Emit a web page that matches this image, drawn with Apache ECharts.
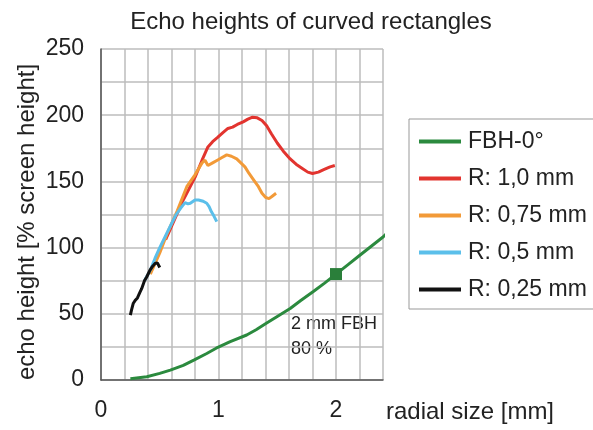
<!DOCTYPE html>
<html>
<head>
<meta charset="utf-8">
<script src="https://cdn.jsdelivr.net/npm/echarts@6/dist/echarts.min.js"></script>
<style>
html, body { margin: 0; padding: 0; background: #fff; }
#main { width: 593px; height: 430px; }
</style>
</head>
<body>
<div id="main"></div>
<script>
// 曲线数据 [径向尺寸 mm, 回波高度 %]
var fbh0 = [[0.25,1],[0.39,2.5],[0.5,5],[0.59,7.5],[0.7,11],[0.79,15],[0.9,20],[0.98,24],[1.1,29],[1.24,34],[1.32,38],[1.41,43],[1.5,48],[1.61,54],[1.7,60],[1.81,67],[1.9,73],[2.0,80],[2.1,87],[2.2,94],[2.3,101],[2.4,108],[2.47,114]];
var r100 = [[0.55,106],[0.6,116],[0.7,136],[0.8,153],[0.86,166],[0.91,176],[0.95,180],[0.99,183],[1.04,187],[1.08,190],[1.12,191],[1.16,193],[1.21,195],[1.25,197],[1.29,198.5],[1.33,198],[1.37,196],[1.41,192],[1.45,186],[1.5,179],[1.55,173],[1.61,167],[1.66,163],[1.71,160],[1.76,157],[1.8,156],[1.85,157],[1.9,159],[1.95,161],[1.99,162]];
var r075 = [[0.42,80],[0.5,96],[0.56,110],[0.65,128],[0.73,146],[0.8,155],[0.86,164],[0.885,166],[0.91,162],[0.95,164],[0.99,166],[1.03,168],[1.07,170],[1.11,169],[1.155,167],[1.19,164],[1.225,161],[1.26,156],[1.3,151],[1.34,146],[1.37,141],[1.4,138],[1.43,137],[1.46,139],[1.49,141]];
var r050 = [[0.37,75],[0.42,83],[0.46,92],[0.5,100],[0.55,109],[0.6,118],[0.64,125],[0.68,130],[0.715,134],[0.74,133],[0.76,133.5],[0.8,136],[0.83,136],[0.87,135],[0.9,133.5],[0.92,131],[0.94,127],[0.96,124],[0.985,119.6]];
var r025 = [[0.25,49],[0.26,53],[0.275,58],[0.29,60],[0.31,62],[0.33,66],[0.346,69],[0.37,75],[0.39,78],[0.417,83],[0.44,86],[0.46,88],[0.48,88.5],[0.49,87.6],[0.5,85]];

var seriesNames = ['FBH-0°', 'R: 1,0 mm', 'R: 0,75 mm', 'R: 0,5 mm', 'R: 0,25 mm'];
var seriesColors = ['#2b8a3e', '#e2342f', '#f29a38', '#5bbfea', '#111111'];
var seriesData = [fbh0, r100, r075, r050, r025];
var xLabels = [0, 1, 2];
var yLabels = [0, 50, 100, 150, 200, 250];
var refPoint = [2, 80];

var FONT = 'Liberation Sans, Arial, sans-serif';
var GRIDCOLOR = '#bdbdbd';
var myChart = echarts.init(document.getElementById('main'));

var series = [];
for (var i = 0; i < seriesData.length; i++) {
    series.push({
        name: seriesNames[i],
        type: 'line',
        data: seriesData[i],
        symbol: 'none',
        clip: false,
        lineStyle: { color: seriesColors[i], width: 3 },
        itemStyle: { color: seriesColors[i] }
    });
}
// 2 mm FBH 参考点
series[0].markPoint = {
    symbol: 'rect',
    symbolSize: 12,
    itemStyle: { color: '#2a7f3a' },
    label: { show: false },
    data: [{ coord: refPoint }]
};

var option = {
    animation: false,
    textStyle: { fontFamily: FONT },
    title: {
        text: 'Echo heights of curved rectangles',
        left: 306,
        textAlign: 'center',
        top: 5,
        textStyle: { fontFamily: FONT, fontSize: 24, fontWeight: 'normal', color: '#222' }
    },
    legend: {
        orient: 'vertical',
        left: 409,
        top: 119,
        padding: [11, 10, 8, 10],
        borderColor: '#999',
        borderWidth: 1,
        itemWidth: 42,
        itemHeight: 4,
        itemGap: 14,
        icon: 'rect',
        data: seriesNames,
        textStyle: { fontFamily: FONT, fontSize: 23, color: '#222', padding: [0, 0, 0, 2] }
    },
    grid: { left: 101, right: 210, top: 49, bottom: 50 },
    xAxis: {
        type: 'value',
        min: 0,
        max: 2.4,
        interval: 0.2,
        axisLine: { lineStyle: { color: '#555', width: 1.5 } },
        axisTick: { show: false },
        axisLabel: {
            customValues: xLabels,
            margin: 19,
            fontFamily: FONT,
            fontSize: 23,
            color: '#222',
            formatter: function (v) { return Math.abs(v - Math.round(v)) < 1e-6 ? String(Math.round(v)) : ''; }
        },
        splitLine: { lineStyle: { color: GRIDCOLOR, width: 1.5 } },
        name: 'radial size [mm]',
        nameLocation: 'end',
        nameGap: 3,
        nameTextStyle: { fontFamily: FONT, fontSize: 24, color: '#222', align: 'left', verticalAlign: 'top', padding: [20, 0, 0, 0] }
    },
    yAxis: {
        type: 'value',
        min: 0,
        max: 250,
        interval: 25,
        axisLine: { show: true, lineStyle: { color: '#555', width: 1.5 } },
        axisTick: { show: false },
        axisLabel: {
            customValues: yLabels,
            margin: 17,
            fontFamily: FONT,
            fontSize: 23,
            color: '#222',
            formatter: function (v) { return v % 50 === 0 ? String(v) : ''; }
        },
        splitLine: { lineStyle: { color: GRIDCOLOR, width: 1.5 } },
        name: 'echo height [% screen height]',
        nameLocation: 'middle',
        nameGap: 62,
        nameTextStyle: { fontFamily: FONT, fontSize: 24, color: '#222', padding: [0, 15, 0, 0] }
    },
    graphic: [{
        type: 'text',
        left: 291,
        top: 312,
        style: {
            text: '2 mm FBH\n80 %',
            font: '18px Liberation Sans, Arial, sans-serif',
            lineHeight: 25,
            fill: '#222'
        }
    }],
    series: series
};

myChart.setOption(option);
</script>
</body>
</html>
